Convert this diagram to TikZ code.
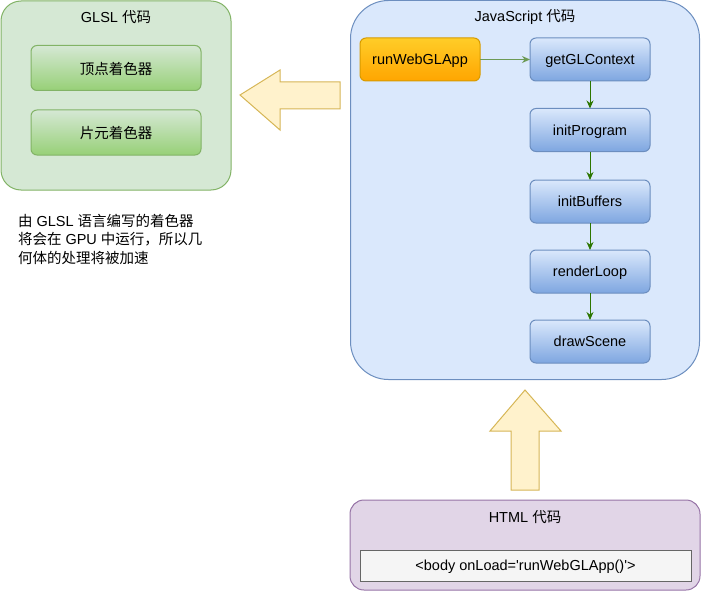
\documentclass[tikz,border=0pt]{standalone}
\usepackage{fontspec}
\setmainfont{Liberation Sans}
\newfontfamily\codefont{Liberation Sans}[Ligatures=TeXOff]
\newfontfamily\cjk{Noto Sans CJK SC}
\usetikzlibrary{arrows.meta}
\definecolor{grfill}{HTML}{D5E8D4}
\definecolor{grline}{HTML}{82B366}
\definecolor{grdark}{HTML}{97D077}
\definecolor{blfill}{HTML}{DAE8FC}
\definecolor{blline}{HTML}{6C8EBF}
\definecolor{bldark}{HTML}{7EA6E0}
\definecolor{orfill}{HTML}{FFCD28}
\definecolor{ordark}{HTML}{FFA500}
\definecolor{orline}{HTML}{D79B00}
\definecolor{yefill}{HTML}{FFF2CC}
\definecolor{yeline}{HTML}{D6B656}
\definecolor{pufill}{HTML}{E1D5E7}
\definecolor{puline}{HTML}{9673A6}
\definecolor{gyfill}{HTML}{F5F5F5}
\definecolor{gyline}{HTML}{666666}
\definecolor{arrgreen}{HTML}{2D7600}
\definecolor{arrlight}{HTML}{6D9A55}
\begin{document}
\begin{tikzpicture}[x=1pt,y=-1pt,
  font=\fontsize{14.5}{19}\selectfont,
  every node/.style={inner sep=0pt, outer sep=0pt},
  gbox/.style={draw=grline, line width=1pt, top color=grfill, bottom color=grdark, rounded corners=6pt, minimum width=170pt, minimum height=45pt, text depth=0pt},
  bbox/.style={draw=blline, line width=1pt, top color=blfill, bottom color=bldark, rounded corners=6pt, minimum width=120pt, minimum height=43pt, text height=12pt, text depth=1.5pt},
  obox/.style={draw=orline, line width=1pt, top color=orfill, bottom color=ordark, rounded corners=6pt, minimum width=120pt, minimum height=43pt, text height=12pt, text depth=1.5pt},
  flow/.style={draw=arrgreen, line width=1pt, -{Stealth[length=8pt,width=7pt]}},
  flowlight/.style={draw=arrlight, line width=1pt, -{Stealth[length=8pt,width=7pt]}},
  blockarrow/.style={draw=yeline, fill=yefill, line width=1pt, line join=miter}
]
\useasboundingbox (0,0) rectangle (701,591);

% GLSL container
\node[draw=grline, fill=grfill, line width=1pt, rounded corners=20pt, minimum width=230pt, minimum height=189pt] (glsl) at (116,95.5) {};
\node (glsltitle) at (116,17) {GLSL {\cjk 代码}};
\node[gbox] (vs) at (116,68) {\cjk 顶点着色器};
\node[gbox] (fs) at (116,132.5) {\cjk 片元着色器};

% note text
\node[anchor=north west, align=left, font=\fontsize{14.5}{18.5}\selectfont] (note) at (18,214)
  {{\cjk 由} GLSL {\cjk 语言编写的着色器}\\{\cjk 将会在} GPU {\cjk 中运行，所以几}\\{\cjk 何体的处理将被加速}};

% left block arrow
\draw[blockarrow] (240,95) -- (280,70) -- (280,82) -- (340,82) -- (340,109) -- (280,109) -- (280,130) -- cycle;

% JavaScript container
\node[draw=blline, fill=blfill, line width=1pt, rounded corners=38pt, minimum width=349pt, minimum height=379pt] (js) at (525,190) {};
\node (jstitle) at (525,17) {JavaScript {\cjk 代码}};
\node[obox] (run) at (420,59.5) {runWebGLApp};
\node[bbox] (ctx) at (590,59.5) {getGLContext};
\node[bbox] (prog) at (590,130) {initProgram};
\node[bbox] (buf) at (590,201.5) {initBuffers};
\node[bbox] (loop) at (590,271.5) {renderLoop};
\node[bbox] (scene) at (590,341.5) {drawScene};
\draw[flowlight] (run) -- (ctx);
\draw[flow] (ctx) -- (prog);
\draw[flow] (prog) -- (buf);
\draw[flow] (buf) -- (loop);
\draw[flow] (loop) -- (scene);

% up block arrow
\draw[blockarrow] (525,390) -- (561,431) -- (539,431) -- (539,490) -- (511,490) -- (511,431) -- (490,431) -- cycle;

% HTML container
\node[draw=puline, fill=pufill, line width=1pt, rounded corners=14pt, minimum width=350pt, minimum height=90pt] (html) at (525,545) {};
\node (htmltitle) at (525,517) {HTML {\cjk 代码}};
\node[draw=gyline, fill=gyfill, line width=1pt, minimum width=331pt, minimum height=31pt, text height=12pt, text depth=1.5pt] (body) at (525.5,565.5) {\codefont <body onLoad='runWebGLApp()'>};
\end{tikzpicture}
\end{document}
